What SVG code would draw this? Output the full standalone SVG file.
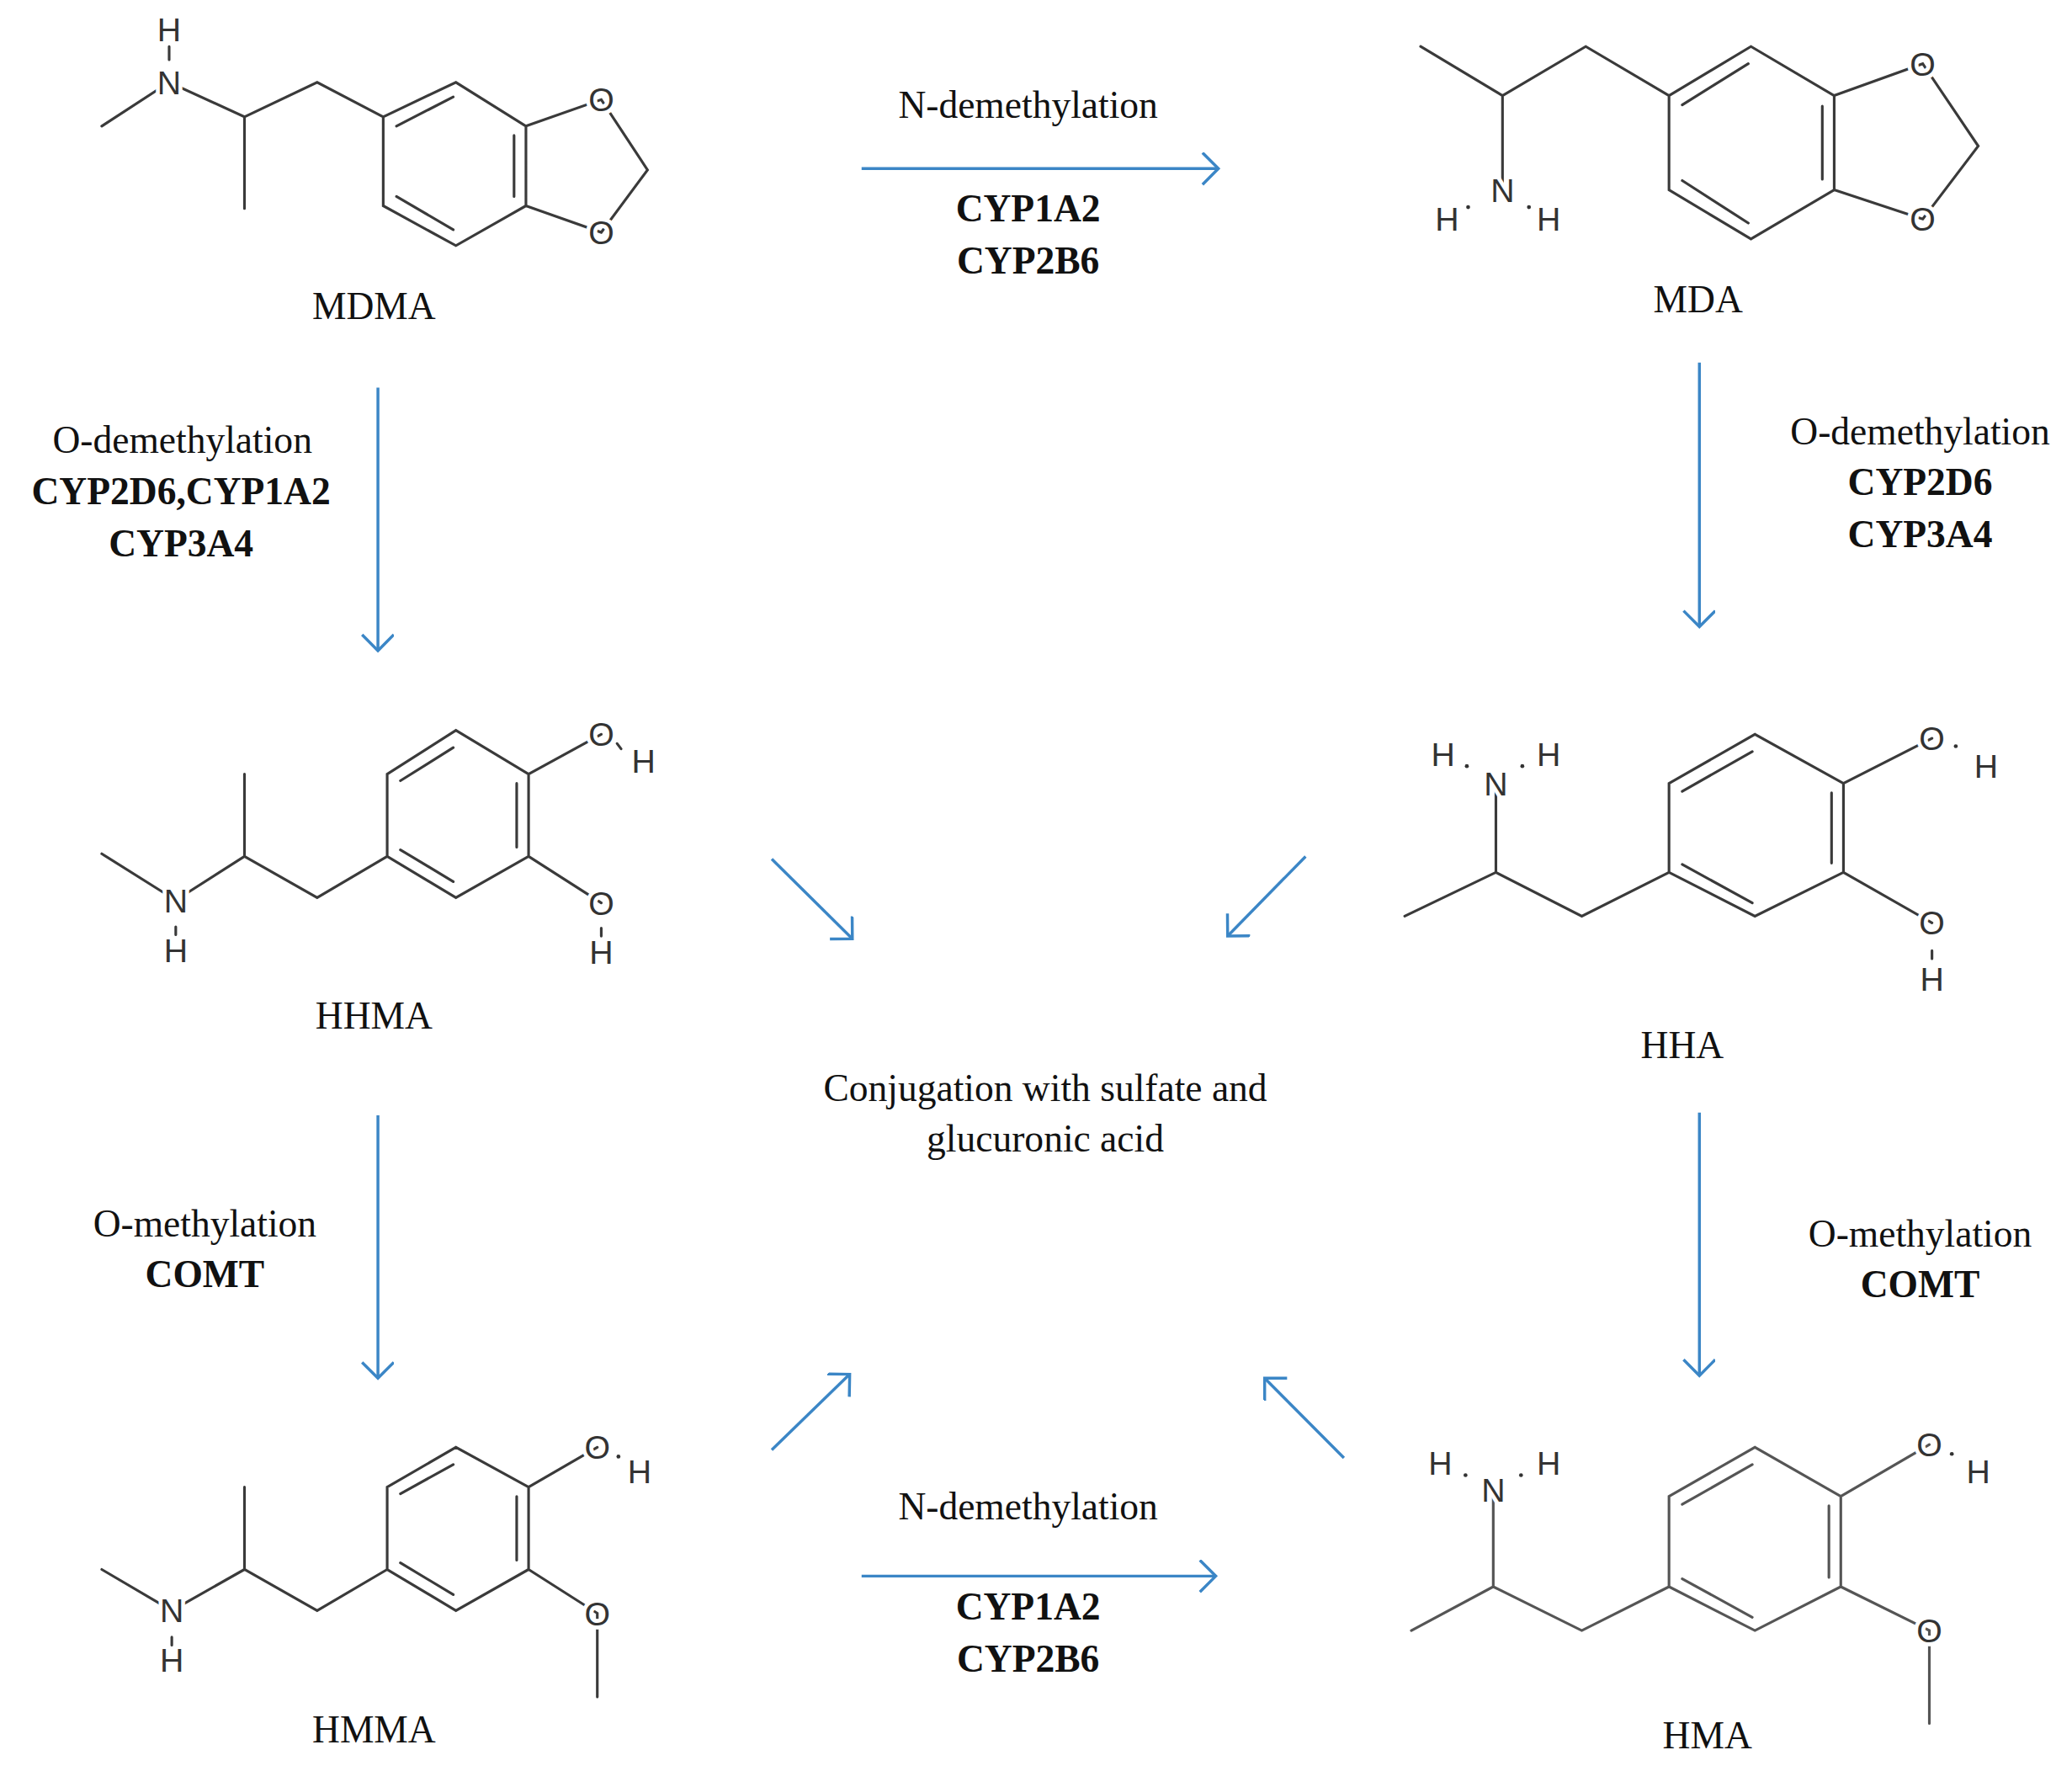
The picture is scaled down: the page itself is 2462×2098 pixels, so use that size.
<svg xmlns="http://www.w3.org/2000/svg" width="2462" height="2098" viewBox="0 0 2462 2098">
<defs>
<style>
.b{stroke:#3a3a3a;stroke-width:2;fill:none;stroke-linecap:round}
.g .b{stroke:#555}
.a{font-family:"Liberation Sans",Arial,sans-serif;font-size:25px;fill:#333;text-anchor:middle;dominant-baseline:central;stroke:#fff;stroke-width:6;stroke-linejoin:round;paint-order:stroke fill}
.t{font-family:"Liberation Serif","Times New Roman",serif;font-size:29px;fill:#111;text-anchor:middle}
.k{font-weight:bold}
.ar{stroke:#3b86c6;stroke-width:2.2;fill:none}
</style>
<marker id="h" markerUnits="userSpaceOnUse" markerWidth="30" markerHeight="30" refX="20" refY="12" orient="auto" viewBox="0 0 30 30">
<path d="M8,0 L20,12 L8,24" stroke="#3b86c6" stroke-width="2.2" fill="none"/>
</marker>
</defs>
<rect width="2462" height="2098" fill="#fff"/>
<g transform="scale(1.5702 1.5774)">
<g id="MDMA">
<path class="b" d="M77,95 L128,62 L185,88 L185,157 M185,88 L240,62 L290,88 M290,88 L345,62 L398,95 L398,155 L345,185 L290,155 Z M300,95 L343,73 M389,102 L389,148 M300,148 L343,173 M398,95 L455,75 L490,128 L455,175 L398,155 M128,35 L128,45"/>
<text class="a" x="128" y="62">N</text><text class="a" x="128" y="22">H</text><text class="a" x="455" y="75">O</text><text class="a" x="455" y="175">O</text>
<text class="t" x="283" y="240">MDMA</text>
</g>
<g id="MDA">
<path class="b" d="M1075,35 L1137,72 L1137,140 M1137,72 L1200,35 L1263,72 M1263,72 L1325,35 L1388,72 L1388,143 L1325,180 L1263,143 Z M1273,79 L1323,48 M1379,80 L1379,135 M1273,136 L1323,168 M1388,72 L1455,48 L1497,110 L1455,165 L1388,143"/>
<text class="a" x="1137" y="143">N</text><text class="a" x="1095" y="165">H</text><text class="a" x="1172" y="165">H</text><text class="a" x="1455" y="48">O</text><text class="a" x="1455" y="165">O</text>
<circle cx="1111" cy="156" r="1.5" fill="#333"/><circle cx="1157" cy="156" r="1.5" fill="#333"/>
<text class="t" x="1285" y="235">MDA</text>
</g>
<g id="HHMA">
<path class="b" d="M77,643 L133,678 L185,645 L185,583 M185,645 L240,676 L293,645 M293,645 L293,583 L345,550 L400,583 L400,645 L345,676 Z M303,588 L343,563 M391,590 L391,638 M303,640 L343,664 M400,583 L455,553 M400,645 L455,680 M133,698 L133,704 M455,699 L455,705 M467,560 L470,564"/>
<text class="a" x="133" y="678">N</text><text class="a" x="133" y="716">H</text><text class="a" x="455" y="553">O</text><text class="a" x="487" y="573">H</text><text class="a" x="455" y="680">O</text><text class="a" x="455" y="717">H</text>
<text class="t" x="283" y="775">HHMA</text>
</g>
<g id="HHA">
<path class="b" d="M1063,690 L1132,657 L1132,590 M1132,657 L1197,690 L1263,657 M1263,657 L1263,590 L1328,553 L1395,590 L1395,657 L1328,690 Z M1273,596 L1326,566 M1386,597 L1386,650 M1273,651 L1326,680 M1395,590 L1462,556 M1395,657 L1462,695 M1462,716 L1462,722"/>
<text class="a" x="1132" y="590">N</text><text class="a" x="1092" y="568">H</text><text class="a" x="1172" y="568">H</text><text class="a" x="1462" y="556">O</text><text class="a" x="1503" y="577">H</text><text class="a" x="1462" y="695">O</text><text class="a" x="1462" y="737">H</text>
<circle cx="1110" cy="577" r="1.5" fill="#333"/><circle cx="1152" cy="577" r="1.5" fill="#333"/><circle cx="1480" cy="562" r="1.5" fill="#333"/>
<text class="t" x="1273" y="797">HHA</text>
</g>
<g id="HMMA">
<path class="b" d="M77,1182 L130,1213 L185,1182 L185,1120 M185,1182 L240,1213 L293,1182 M293,1182 L293,1120 L345,1090 L400,1120 L400,1182 L345,1213 Z M303,1125 L343,1103 M391,1127 L391,1175 M303,1177 L343,1201 M400,1120 L452,1090 M400,1182 L452,1215 L452,1278 M130,1233 L130,1239"/>
<text class="a" x="130" y="1213">N</text><text class="a" x="130" y="1250">H</text><text class="a" x="452" y="1090">O</text><text class="a" x="484" y="1108">H</text><text class="a" x="452" y="1215">O</text>
<circle cx="468" cy="1097" r="1.5" fill="#333"/>
<text class="t" x="283" y="1312">HMMA</text>
</g>
<g id="HMA" class="g">
<path class="b" d="M1068,1228 L1130,1195 L1130,1122 M1130,1195 L1197,1228 L1263,1195 M1263,1195 L1263,1127 L1328,1090 L1393,1127 L1393,1195 L1328,1228 Z M1273,1133 L1326,1103 M1384,1134 L1384,1188 M1273,1189 L1326,1218 M1393,1127 L1460,1088 M1393,1195 L1460,1228 L1460,1298"/>
<text class="a" x="1130" y="1122">N</text><text class="a" x="1090" y="1102">H</text><text class="a" x="1172" y="1102">H</text><text class="a" x="1460" y="1088">O</text><text class="a" x="1497" y="1108">H</text><text class="a" x="1460" y="1228">O</text>
<circle cx="1109" cy="1111" r="1.5" fill="#333"/><circle cx="1151" cy="1111" r="1.5" fill="#333"/><circle cx="1477" cy="1095" r="1.5" fill="#333"/>
<text class="t" x="1292" y="1317">HMA</text>
</g>
<g id="connectors">
<line class="ar" x1="652" y1="127" x2="922" y2="127" marker-end="url(#h)"/>
<line class="ar" x1="286" y1="292" x2="286" y2="490" marker-end="url(#h)"/>
<line class="ar" x1="1286" y1="273" x2="1286" y2="472" marker-end="url(#h)"/>
<line class="ar" x1="286" y1="840" x2="286" y2="1038" marker-end="url(#h)"/>
<line class="ar" x1="1286" y1="838" x2="1286" y2="1036" marker-end="url(#h)"/>
<line class="ar" x1="652" y1="1187" x2="920" y2="1187" marker-end="url(#h)"/>
<line class="ar" x1="584" y1="647" x2="645" y2="707" marker-end="url(#h)"/>
<line class="ar" x1="988" y1="645" x2="929" y2="705" marker-end="url(#h)"/>
<line class="ar" x1="584" y1="1092" x2="643" y2="1035" marker-end="url(#h)"/>
<line class="ar" x1="1017" y1="1098" x2="957" y2="1038" marker-end="url(#h)"/>
</g>
<g id="labels">
<text class="t" x="778" y="89">N-demethylation</text>
<text class="t k" x="778" y="167">CYP1A2</text>
<text class="t k" x="778" y="206">CYP2B6</text>
<text class="t" x="138" y="341">O-demethylation</text>
<text class="t k" x="137" y="380">CYP2D6,CYP1A2</text>
<text class="t k" x="137" y="419">CYP3A4</text>
<text class="t" x="1453" y="335">O-demethylation</text>
<text class="t k" x="1453" y="373">CYP2D6</text>
<text class="t k" x="1453" y="412">CYP3A4</text>
<text class="t" x="155" y="931">O-methylation</text>
<text class="t k" x="155" y="969">COMT</text>
<text class="t" x="1453" y="939">O-methylation</text>
<text class="t k" x="1453" y="977">COMT</text>
<text class="t" x="778" y="1144">N-demethylation</text>
<text class="t k" x="778" y="1220">CYP1A2</text>
<text class="t k" x="778" y="1259">CYP2B6</text>
<text class="t" x="791" y="829">Conjugation with sulfate and</text>
<text class="t" x="791" y="867">glucuronic acid</text>
</g>
</g>
</svg>
